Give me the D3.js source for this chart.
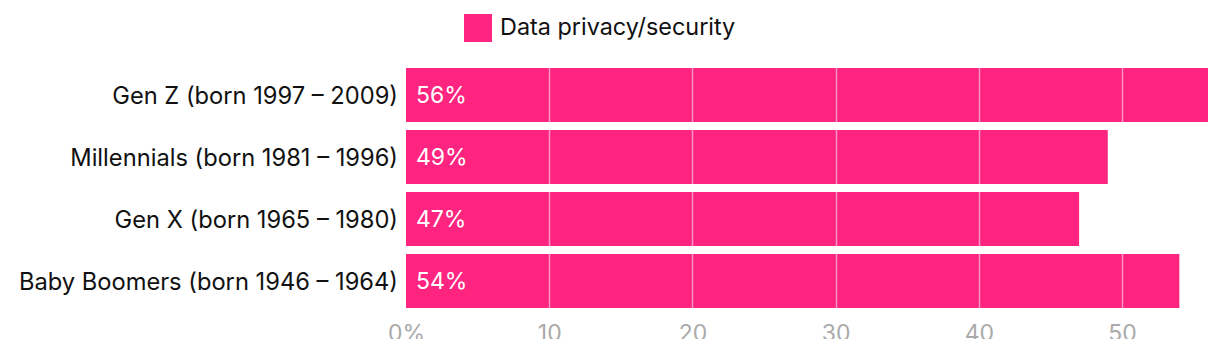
<!DOCTYPE html>
<html>
<head>
<meta charset="utf-8">
<script src="https://cdn.jsdelivr.net/npm/d3@7"></script>
<style>
  body { margin: 0; background: #fff; }
  svg { display: block; font-family: Inter, "Noto Sans", sans-serif; }
</style>
</head>
<body>
<div id="chart"></div>
<script>
// data
var categories = ["Gen Z (born 1997 – 2009)", "Millennials (born 1981 – 1996)", "Gen X (born 1965 – 1980)", "Baby Boomers (born 1946 – 1964)"];
var values = [56, 49, 47, 54];
var seriesName = "Data privacy/security";
var tickValues = [0, 10, 20, 30, 40, 50];

var data = categories.map(function(c, i) { return {name: c, value: values[i]}; });

var width = 1220, height = 339;
var barColor = "#ff2480";

var svg = d3.select("#chart")
  .append("svg")
    .attr("width", width)
    .attr("height", height);

// scales
var x = d3.scaleLinear()
  .domain([0, 56])
  .range([406, 1208]);

var y = d3.scaleBand()
  .domain(categories)
  .range([68, 308])
  .paddingInner(8 / 62)
  .paddingOuter(0);

// legend
var legend = svg.append("g").attr("transform", "translate(464,14)");
legend.append("rect")
  .attr("width", 28)
  .attr("height", 28)
  .attr("fill", barColor);
legend.append("text")
  .attr("x", 36)
  .attr("y", 21)
  .attr("font-size", 23.4)
  .attr("fill", "#111")
  .text(seriesName);

// bars
svg.selectAll("rect.bar")
  .data(data)
  .enter()
  .append("rect")
    .attr("class", "bar")
    .attr("x", x(0))
    .attr("y", function(d) { return y(d.name); })
    .attr("width", function(d) { return x(d.value) - x(0); })
    .attr("height", y.bandwidth())
    .attr("fill", barColor);

// gridlines over bars
svg.append("g")
  .selectAll("line")
  .data(tickValues.slice(1))
  .enter()
  .append("line")
    .attr("x1", function(d) { return Math.round(x(d)) + 0.5; })
    .attr("x2", function(d) { return Math.round(x(d)) + 0.5; })
    .attr("y1", 60)
    .attr("y2", 316)
    .attr("stroke", "#fff")
    .attr("stroke-opacity", 0.5)
    .attr("stroke-width", 1.5);

// category labels
svg.append("g")
  .selectAll("text")
  .data(data)
  .enter()
  .append("text")
    .attr("x", 398)
    .attr("y", function(d) { return y(d.name) + y.bandwidth() / 2; })
    .attr("dy", "0.36em")
    .attr("text-anchor", "end")
    .attr("font-size", 23.7)
    .attr("fill", "#111")
    .text(function(d) { return d.name; });

// value labels
svg.append("g")
  .selectAll("text")
  .data(data)
  .enter()
  .append("text")
    .attr("x", x(0) + 10)
    .attr("y", function(d) { return y(d.name) + y.bandwidth() / 2; })
    .attr("dy", "0.36em")
    .attr("font-size", 23)
    .attr("fill", "#fff")
    .text(function(d) { return d.value + "%"; });

// x axis
var axis = svg.append("g")
  .attr("transform", "translate(0,320)")
  .call(d3.axisBottom(x)
    .tickValues(tickValues)
    .tickSize(0)
    .tickPadding(5)
    .tickFormat(function(d) { return d === 0 ? "0%" : d; }));
axis.select(".domain").remove();
axis.selectAll("text")
  .attr("font-family", "Inter, 'Noto Sans', sans-serif")
  .attr("font-size", 23)
  .attr("fill", "#aaa");
</script>
</body>
</html>
